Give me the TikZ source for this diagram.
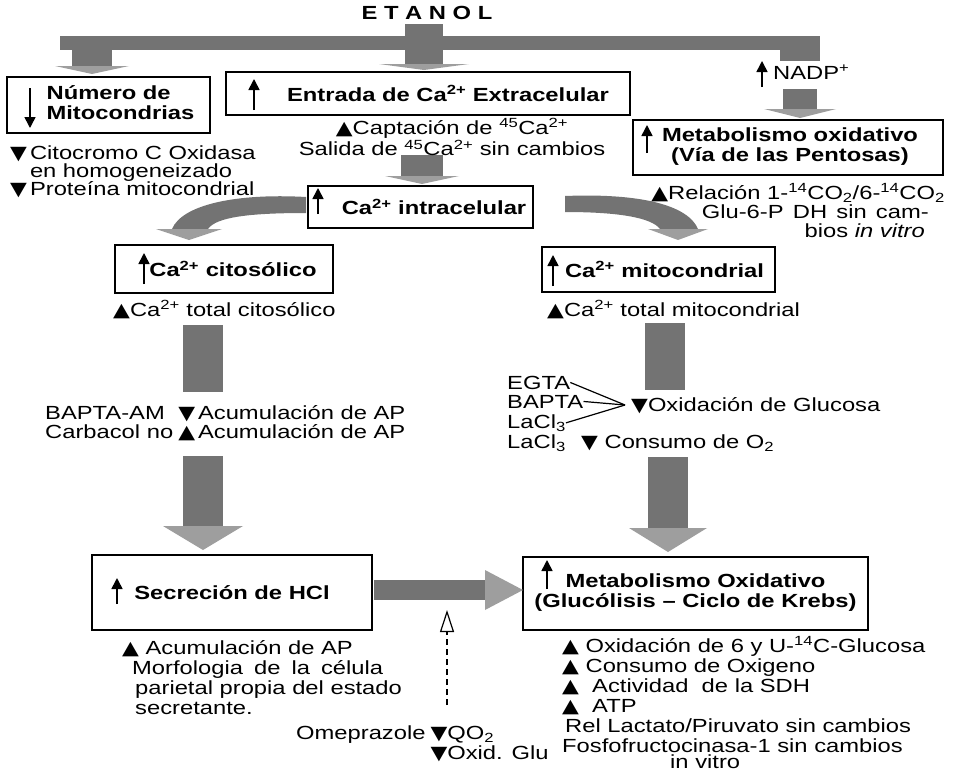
\documentclass[tikz,border=0pt]{standalone}
\usepackage{fontspec}
\setmainfont{Liberation Sans}[FakeStretch=1.25]
\newfontfamily\symf{DejaVu Sans}[FakeStretch=1.15]
\usetikzlibrary{arrows.meta}
\newcommand\tup{{\symf\fontsize{19}{19}\selectfont ▲}}
\newcommand\tdn{{\symf\fontsize{19}{19}\selectfont ▼}}
\newcommand\sps[1]{\textsuperscript{#1}}
\newcommand\sbs[1]{\textsubscript{#1}}
\newcommand\vblk[6]{% x, ytop, ybase, yapex, half body width, half head width
  \fill[body] ({#1-#5},#2) rectangle ({#1+#5},#3);
  \fill[head] ({#1-#6},#3) -- ({#1+#6},#3) -- (#1,#4) -- cycle;}
\begin{document}
\begin{tikzpicture}[x=1pt,y=-1pt,
  every node/.style={font=\fontsize{19}{20}\selectfont, inner sep=0pt},
  box/.style={draw, line width=2.5pt, font=\fontsize{19}{20}\selectfont\bfseries},
  arr/.style={line width=1.6pt, -{Triangle[length=11pt,width=11pt]}},
  body/.style={fill=black!55},
  head/.style={fill=black!38},
]
\useasboundingbox (0,0) rectangle (955,771);

% ---------- title ----------
\node[font=\fontsize{19}{20}\selectfont\bfseries] (etanol) at (427,13) {E T A N O L};

% ---------- boxes ----------
\node[box, minimum width=203pt, minimum height=56pt] (mito) at (108.5,105)
  {\hspace*{24pt}\begin{tabular}{@{}l@{}}Número de\\Mitocondrias\end{tabular}};
\node[box, minimum width=404pt, minimum height=43pt] (entr) at (428,93.5)
  {\hspace*{40pt}Entrada de Ca\sps{2+} Extracelular};
\node[box, minimum width=310pt, minimum height=55pt] (pent) at (788,147.5)
  {\hspace*{4pt}\begin{tabular}{@{}c@{}}Metabolismo oxidativo\\(Vía de las Pentosas)\end{tabular}};
\node[box, minimum width=225pt, minimum height=42pt] (intra) at (420.5,207)
  {\hspace*{27pt}Ca\sps{2+} intracelular};
\node[box, minimum width=218pt, minimum height=48pt] (cito) at (224,269)
  {\hspace*{18pt}Ca\sps{2+} citosólico};
\node[box, minimum width=233pt, minimum height=45pt] (mitoc) at (658.5,269.5)
  {\hspace*{12pt}Ca\sps{2+} mitocondrial};
\node[box, minimum width=280pt, minimum height=75pt] (secr) at (232,592.5)
  {Secreción de HCl};
\node[box, minimum width=345pt, minimum height=73pt] (metg) at (695.5,593.5)
  {\raisebox{-4pt}{\begin{tabular}{@{}c@{}}Metabolismo Oxidativo\\(Glucólisis -- Ciclo de Krebs)\end{tabular}}};

% ---------- arrows inside boxes ----------
\draw[arr] (30,88) -- (30,128);
\draw[arr] (254,110) -- (254,79);
\draw[arr] (647,153) -- (647,125);
\draw[arr] (318,214) -- (318,188);
\draw[arr] (144,284) -- (144,253);
\draw[arr] (553,286) -- (553,255);
\draw[arr] (117,604) -- (117,578);
\draw[arr] (547,589) -- (547,560);

% ---------- shaded block arrows ----------
\fill[body] (60,36) rectangle (820,50);
\vblk{424}{24}{64}{70}{19}{45}
\vblk{92}{50}{66}{74}{20}{37}
\fill[body] (780,50) rectangle (820,61);
\vblk{800}{89}{109}{118}{17}{36}
\vblk{422}{155}{176}{184}{21}{37}
\fill[body] (183,325) rectangle (223,392);
\vblk{203}{456}{526}{550}{20}{40}
\fill[body] (645,323) rectangle (685,390);
\vblk{668}{457}{528}{552}{20}{39}
\fill[body] (374,580) rectangle (485,600);
\fill[head] (485,570) -- (485,610) -- (523,590) -- cycle;
% curved arrows from Ca intracelular
\fill[body] (306,197) .. controls (235,193) and (182,205) .. (172,229)
  -- (208,229) .. controls (216,217) and (250,213) .. (306,213) -- cycle;
\fill[head] (156,229) -- (222,229) -- (189,240) -- cycle;
\fill[body] (565,196) .. controls (640,193) and (688,205) .. (698,229)
  -- (660,229) .. controls (652,218) and (620,212) .. (565,212) -- cycle;
\fill[head] (648,229) -- (708,229) -- (678,240) -- cycle;

% ---------- texts ----------
\node[anchor=base west] (citox) at (10,159) {\begin{tabular}[t]{@{}r@{\hspace{3pt}}l@{}}\tdn & Citocromo C Oxidasa\\[-2pt] & en homogeneizado\\[-2pt] \tdn & Proteína mitocondrial\end{tabular}};

\node[anchor=base] (capt) at (452,134) {\begin{tabular}[t]{@{}c@{}}\tup Captación de \sps{45}Ca\sps{2+}\\ Salida de \sps{45}Ca\sps{2+} sin cambios\end{tabular}};

\node[anchor=base west] (nadp) at (773,79) {NADP\sps{+}};
\draw[arr] (762,87) -- (762,61);

\node[anchor=base east] (rel) at (945,199) {\begin{tabular}[t]{@{}r@{}}\tup Relación 1-\sps{14}CO\sbs{2}/6-\sps{14}CO\sbs{2}\\[-0.5pt] \makebox[227pt][s]{Glu-6-P DH sin cam-}\hspace*{16pt}\\[-1.5pt] bios \textit{in vitro}\hspace*{20pt}\end{tabular}};

\node[anchor=base west] (totc) at (113,316) {\tup Ca\sps{2+} total citosólico};
\node[anchor=base west] (totm) at (547,316) {\tup Ca\sps{2+} total mitocondrial};

\node[anchor=base west] (bapam) at (45,419) {\begin{tabular}[t]{@{}l@{\hspace{5pt}}c@{\hspace{3pt}}l@{}}BAPTA-AM & \tdn & Acumulación de AP\\[-1pt] Carbacol no & \tup & Acumulación de AP\end{tabular}};

\node[anchor=base west] (egta) at (507,389) {EGTA};
\node[anchor=base west] (bapta) at (507,408) {BAPTA};
\node[anchor=base west] (lacla) at (507,428) {LaCl\sbs{3}};
\node[anchor=base west] (laclb) at (507,448) {LaCl\sbs{3}};
\coordinate (conv) at (625,405);
\draw[line width=1.2pt] (egta.east) -- (conv);
\draw[line width=1.2pt] (bapta.east) -- (conv);
\draw[line width=1.2pt] (lacla.east) -- (conv);
\node[anchor=base west] (oxg) at (631,411) {\tdn Oxidación de Glucosa};
\node[anchor=base west] (cons) at (581,448) {\tdn\ Consumo de O\sbs{2}};

\node[anchor=base west] (secsub) at (122,654) {\begin{tabular}[t]{@{}l@{}}\tup\ Acumulación de AP\\ \hspace*{10pt}\makebox[251pt][s]{Morfologia de la célula}\\ \hspace*{13pt}parietal propia del estado\\ \hspace*{13pt}secretante.\end{tabular}};

\node[anchor=base west] (ome) at (296,739) {\begin{tabular}[t]{@{}r@{\hspace{5pt}}l@{}}Omeprazole & \tdn QO\sbs{2}\\ & \tdn Oxid. Glu\end{tabular}};
\draw[dash pattern=on 6pt off 4pt, line width=1.2pt, -{Triangle[open,length=22pt,width=14pt]}] (447,705) -- (447,610);

\node[anchor=base west] (mgsub) at (562,652) {\begin{tabular}[t]{@{}l@{}}\tup\ Oxidación de 6 y U-\sps{14}C-Glucosa\\ \tup\ Consumo de Oxigeno\\ \tup\ \ Actividad\ \ de la SDH\\ \tup\ \ ATP\\ \hspace*{3pt}Rel Lactato/Piruvato sin cambios\end{tabular}};
\node[anchor=base west] (fosfo) at (562,752) {Fosfofructocinasa-1 sin cambios};
\node[anchor=base west] (invitro) at (670,768) {in vitro};
\end{tikzpicture}
\end{document}
